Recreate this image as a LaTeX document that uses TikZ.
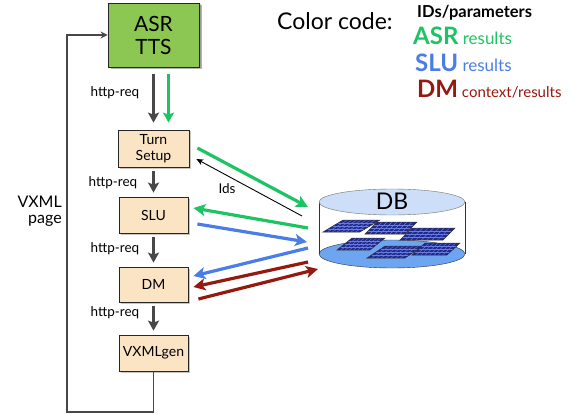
\documentclass[tikz,border=0pt]{standalone}
\usepackage{fontspec}
\setmainfont{Lato}
\usetikzlibrary{arrows.meta,shadows}
\definecolor{boxgreen}{RGB}{141,199,83}
\definecolor{boxbeige}{RGB}{250,228,196}
\definecolor{asrgreen}{RGB}{30,195,100}
\definecolor{slublue}{RGB}{75,125,230}
\definecolor{dmred}{RGB}{150,25,15}
\definecolor{reqgrey}{RGB}{72,72,72}
\definecolor{dbtop}{RGB}{205,222,248}
\definecolor{dbfloor}{RGB}{110,165,240}
\definecolor{panelblue}{RGB}{32,42,140}
\definecolor{panelgrid}{RGB}{105,125,225}

\begin{document}
\begin{tikzpicture}[x=1pt,y=-1pt,
    module/.style={draw=black!85,thick,fill=boxbeige,minimum width=69pt,minimum height=36pt,
      align=center,inner sep=1pt,font=\fontsize{14}{16}\selectfont,
      drop shadow={shadow xshift=1.5pt,shadow yshift=-1.5pt,opacity=.45}},
    req/.style={draw=reqgrey,line width=3pt,-{Stealth[length=10pt,width=11pt,inset=2pt]},
      shorten <=4pt,shorten >=4pt},
    flow/.style={line width=3.2pt,-{Stealth[length=12pt,width=12pt,inset=3pt]}},
    reqlabel/.style={font=\fontsize{13.5}{13.5}\selectfont},
    legend/.style={anchor=base west,inner sep=0pt,font=\fontsize{17}{17}\selectfont}]
\useasboundingbox (0,0) rectangle (569,414);

\node[module,fill=boxgreen,minimum width=91pt,minimum height=64pt,font=\fontsize{21}{23}\selectfont,
  drop shadow={shadow xshift=2.5pt,shadow yshift=-2.5pt,opacity=.6}] (asr) at (153.5,35) {ASR\\TTS};
\node[module,minimum width=71pt,minimum height=37pt] (turn) at (153.5,148.5) {Turn\\Setup};
\node[module] (slu) at (153.5,215) {SLU};
\node[module,minimum height=35pt] (dm) at (153.5,284.5) {DM};
\node[module] (gen) at (153.5,353) {VXMLgen};

\draw[req,shorten <=7pt,shorten >=7pt] (asr) -- (turn);
\draw[req,draw=asrgreen,shorten <=7pt,shorten >=7pt] ([xshift=15pt]asr.south) -- ([xshift=15pt]turn.north);
\draw[req] (turn) -- (slu);
\draw[req] (slu) -- (dm);
\draw[req] (dm) -- (gen);
\node[reqlabel] (req1) at (115,93) {http-req};
\node[reqlabel] (req2) at (113,183) {http-req};
\node[reqlabel] (req3) at (115,249) {http-req};
\node[reqlabel] (req4) at (115,313) {http-req};

\coordinate (loopcorner) at (67,412);
\draw[black!72,line width=1.6pt,-{Stealth[length=7pt,width=7pt]}] (gen.south) |- (loopcorner) |- (asr.west);
\node[anchor=east,inner sep=0pt,align=right,font=\fontsize{16}{16.5}\selectfont] (page) at (62,211) {VXML\\page};

\fill[white] (319,202) rectangle (465,254);
\draw[black!80,fill=dbfloor] (392,254) ellipse [x radius=73pt,y radius=14pt];
\foreach \bx/\by/\w/\s in {323/232/37/20,365/234/40/12,400/240/43/12,337/250/33/15,367/258/38/18,412/255/35/13}{
  \begin{scope}[shift={(\bx,\by)},x={(\w pt,0pt)},y={(\s pt,12pt)}]
    \fill[panelblue] (0,0) -- (1,0) -- (1,1) -- (0,1) -- cycle;
    \foreach \u in {0.125,0.25,...,0.875} \draw[panelgrid,line width=.4pt] (\u,0) -- (\u,1);
    \foreach \v in {0.25,0.5,0.75} \draw[panelgrid,line width=.4pt] (0,\v) -- (1,\v);
    \draw[black!80,line width=.5pt] (0,0) -- (1,0) -- (1,1) -- (0,1) -- cycle;
  \end{scope}}
\draw[black!80] (319,202) -- (319,254) (465,202) -- (465,254);
\draw[black!55,fill=dbtop] (392,202) ellipse [x radius=73pt,y radius=13pt];
\node[font=\fontsize{23}{23}\selectfont] (db) at (392,201) {DB};

\coordinate (db-g1) at (308,207);
\coordinate (db-ids) at (302,216);
\coordinate (db-g2) at (308,228);
\coordinate (db-b1) at (307,242);
\coordinate (db-b2) at (308,248);
\coordinate (db-r1) at (308,262);
\coordinate (db-r2) at (318,269);

\draw[flow,asrgreen] ([xshift=8pt,yshift=0.5pt]turn.east) -- (db-g1);
\draw[black,line width=.9pt,-{Stealth[length=7pt,width=6pt]}] (db-ids) -- ([xshift=7pt,yshift=-10.5pt]turn.east);
\node[reqlabel] (ids) at (227,189) {Ids};
\draw[flow,asrgreen] (db-g2) -- ([xshift=5pt,yshift=7pt]slu.east);
\draw[flow,slublue] ([xshift=9pt,yshift=-9pt]slu.east) -- (db-b1);
\draw[flow,slublue] (db-b2) -- ([xshift=5pt,yshift=8.5pt]dm.east);
\draw[flow,dmred] (db-r1) -- ([xshift=5pt,yshift=-2.5pt]dm.east);
\draw[flow,dmred] ([xshift=10pt,yshift=-14.5pt]dm.east) -- (db-r2);

\node[anchor=base west,inner sep=0pt,font=\fontsize{23}{23}\selectfont] (cc) at (277,30) {Color code:};
\node[legend,font=\fontsize{16.5}{16.5}\bfseries] (ids-key) at (417,18) {IDs/parameters};
\node[legend,text=asrgreen] (asr-key) at (413,45) {{\fontsize{24}{24}\bfseries ASR} results};
\node[legend,text=slublue] (slu-key) at (415,72) {{\fontsize{24}{24}\bfseries SLU} results};
\node[legend,text=dmred,font=\fontsize{15}{15}\selectfont] (dm-key) at (417,98) {{\fontsize{24}{24}\bfseries DM} context/results};
\end{tikzpicture}
\end{document}
